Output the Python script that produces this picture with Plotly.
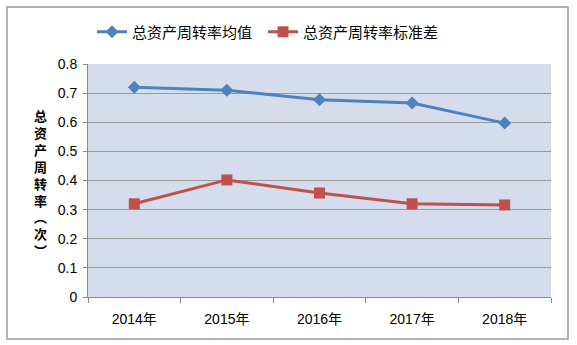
import plotly.graph_objects as go

years = ["2014年", "2015年", "2016年", "2017年", "2018年"]
mean_vals = [0.72, 0.71, 0.677, 0.666, 0.597]
std_vals = [0.32, 0.402, 0.357, 0.32, 0.316]
series_names = ["总资产周转率均值", "总资产周转率标准差"]
y_title_chars = list("总资产周转率︵次︶")

FONT = "Liberation Sans, Noto Sans CJK SC, sans-serif"

fig = go.Figure()
fig.add_trace(go.Scatter(
    x=years, y=mean_vals, name=series_names[0], mode="lines+markers",
    line=dict(color="#4f81bd", width=3),
    marker=dict(symbol="diamond", size=10, color="#4f81bd"),
    legend="legend",
))
fig.add_trace(go.Scatter(
    x=years, y=std_vals, name=series_names[1], mode="lines+markers",
    line=dict(color="#c0504d", width=3),
    marker=dict(symbol="square", size=11, color="#c0504d"),
    legend="legend2",
))

L, R, T, B = 88, 26, 64, 48
W, H = 577, 345
pw, ph = W - L - R, H - T - B

leg_common = dict(orientation="h", xanchor="left", y=1 + 32 / ph, yanchor="middle",
                  font=dict(size=15), bgcolor="rgba(0,0,0,0)", itemwidth=30)

fig.update_layout(
    width=W, height=H,
    margin=dict(l=L, r=R, t=T, b=B),
    paper_bgcolor="white",
    plot_bgcolor="#d5ddec",
    font=dict(family=FONT, size=14, color="black"),
    showlegend=True,
    legend=dict(leg_common, x=(92 - L) / pw),
    legend2=dict(leg_common, x=(263 - L) / pw),
    xaxis=dict(type="category", tickson="boundaries", ticks="outside", ticklen=5,
               tickcolor="#888888", showline=True, linecolor="#888888", linewidth=1,
               showgrid=False, range=[-0.5, 4.5], tickfont=dict(size=14),
               ticklabelstandoff=9),
    yaxis=dict(range=[0, 0.8], dtick=0.1, tickformat="~g", ticks="outside", ticklen=4,
               tickcolor="#888888", showline=True, linecolor="#888888", linewidth=1,
               showgrid=True, gridcolor="#9a9a9a", gridwidth=1, zeroline=False,
               tickfont=dict(size=14), ticklabelstandoff=3),
    shapes=[dict(type="rect", xref="paper", yref="paper",
                 x0=(7 - L) / pw, x1=(568 - L) / pw,
                 y0=(H - B - 339) / ph, y1=(H - B - 7) / ph,
                 line=dict(color="#999999", width=1.5), fillcolor="rgba(0,0,0,0)", layer="below")],
    annotations=[dict(text="<b>" + "<br>".join(y_title_chars) + "</b>", xref="paper", yref="paper",
                      x=(40 - L) / pw, y=(H - B - 184) / ph, xanchor="center", yanchor="middle",
                      showarrow=False, font=dict(size=13, color="black"),
                      align="center")],
)

fig.write_html("out.html")
